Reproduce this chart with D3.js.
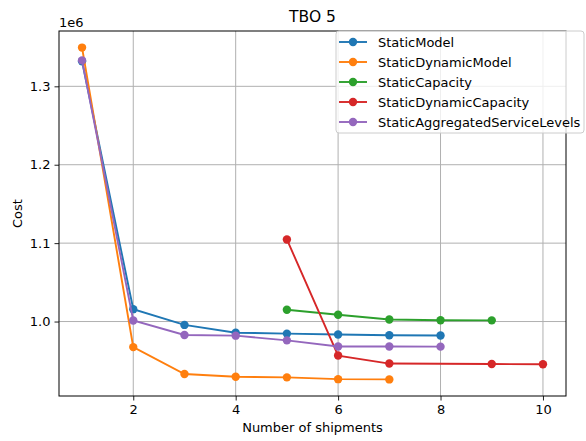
<!DOCTYPE html>
<html>
<head>
<meta charset="utf-8">
<script src="https://cdn.jsdelivr.net/npm/d3@7"></script>
<style>
  body { margin: 0; background: #fff; }
  text { font-family: "DejaVu Sans", sans-serif; fill: #000; }
</style>
</head>
<body>
<div id="root"></div>
<script>
// Values (cost in units of 1e6)
const seriesNames = ["StaticModel", "StaticDynamicModel", "StaticCapacity", "StaticDynamicCapacity", "StaticAggregatedServiceLevels"];
const seriesColors = ["#1f77b4", "#ff7f0e", "#2ca02c", "#d62728", "#9467bd"];

const staticModelX = [1, 2, 3, 4, 5, 6, 7, 8];
const staticModelY = [1.332, 1.0158, 0.9957, 0.9858, 0.9846, 0.9835, 0.9825, 0.9822];
const staticDynamicModelX = [1, 2, 3, 4, 5, 6, 7];
const staticDynamicModelY = [1.3494, 0.9674, 0.9331, 0.9296, 0.9288, 0.9265, 0.9262];
const staticCapacityX = [5, 6, 7, 8, 9];
const staticCapacityY = [1.015, 1.0086, 1.0026, 1.0017, 1.0015];
const staticDynamicCapacityX = [5, 6, 7, 9, 10];
const staticDynamicCapacityY = [1.1047, 0.9566, 0.9464, 0.9458, 0.9455];
const staticAggregatedX = [1, 2, 3, 4, 5, 6, 7, 8];
const staticAggregatedY = [1.3331, 1.0013, 0.9829, 0.982, 0.976, 0.9682, 0.9682, 0.968];

const xTicks = [2, 4, 6, 8, 10];
const yTicks = [1.0, 1.1, 1.2, 1.3];

const seriesX = [staticModelX, staticDynamicModelX, staticCapacityX, staticDynamicCapacityX, staticAggregatedX];
const seriesY = [staticModelY, staticDynamicModelY, staticCapacityY, staticDynamicCapacityY, staticAggregatedY];
const series = seriesNames.map((name, i) => ({
  name,
  color: seriesColors[i],
  points: seriesX[i].map((x, j) => ({ x, y: seriesY[i][j] }))
}));

const width = 586, height = 441;
const margin = { top: 31, right: 20, bottom: 45, left: 59 };
const plotW = width - margin.left - margin.right;
const plotH = height - margin.top - margin.bottom;
const fs = 13;

// matplotlib-style 5% margins around the data range
const allX = seriesX.flat(), allY = seriesY.flat();
const xPad = (d3.max(allX) - d3.min(allX)) * 0.05;
const yPad = (d3.max(allY) - d3.min(allY)) * 0.05;
const x = d3.scaleLinear().domain([d3.min(allX) - xPad, d3.max(allX) + xPad]).range([0, plotW]);
const y = d3.scaleLinear().domain([d3.min(allY) - yPad, d3.max(allY) + yPad]).range([plotH, 0]);

const svg = d3.select("#root").append("svg").attr("width", width).attr("height", height);
const g = svg.append("g").attr("transform", `translate(${margin.left},${margin.top})`);

// grid
g.append("g").selectAll("line").data(xTicks).join("line")
  .attr("x1", d => x(d)).attr("x2", d => x(d)).attr("y1", 0).attr("y2", plotH)
  .attr("stroke", "#b0b0b0").attr("stroke-width", 1);
g.append("g").selectAll("line").data(yTicks).join("line")
  .attr("y1", d => y(d)).attr("y2", d => y(d)).attr("x1", 0).attr("x2", plotW)
  .attr("stroke", "#b0b0b0").attr("stroke-width", 1);

// axes
const xAxis = g.append("g").attr("transform", `translate(0,${plotH})`)
  .call(d3.axisBottom(x).tickValues(xTicks).tickSize(4.5).tickPadding(4).tickFormat(d3.format("d")));
const yAxis = g.append("g")
  .call(d3.axisLeft(y).tickValues(yTicks).tickSize(4.5).tickPadding(4).tickFormat(d3.format(".1f")));
[xAxis, yAxis].forEach(a => {
  a.select(".domain").remove();
  a.selectAll("text").attr("font-size", fs).attr("fill", "#222");
  a.selectAll("line").attr("stroke", "#222");
});

// lines and markers
const line = d3.line().x(d => x(d.x)).y(d => y(d.y));
series.forEach(s => {
  g.append("path").datum(s.points).attr("d", line)
    .attr("fill", "none").attr("stroke", s.color).attr("stroke-width", 1.9);
  g.append("g").selectAll("circle").data(s.points).join("circle")
    .attr("cx", d => x(d.x)).attr("cy", d => y(d.y)).attr("r", 4.2)
    .attr("fill", s.color);
});

// frame
g.append("rect").attr("width", plotW).attr("height", plotH)
  .attr("fill", "none").attr("stroke", "#000").attr("stroke-width", 1);

// texts
svg.append("text").attr("x", margin.left + plotW / 2).attr("y", 22)
  .attr("text-anchor", "middle").attr("font-size", 15.5).text("TBO 5");
svg.append("text").attr("x", margin.left).attr("y", 27)
  .attr("font-size", fs).attr("fill", "#222").text("1e6");
svg.append("text").attr("x", margin.left + plotW / 2).attr("y", 432)
  .attr("text-anchor", "middle").attr("font-size", fs).text("Number of shipments");
svg.append("text").attr("transform", `translate(22,${margin.top + plotH / 2}) rotate(-90)`)
  .attr("text-anchor", "middle").attr("font-size", fs).text("Cost");

// legend
const legend = svg.append("g").attr("transform", "translate(336,31)");
legend.append("rect").attr("width", 248).attr("height", 102).attr("rx", 3)
  .attr("fill", "#fff").attr("fill-opacity", 0.8).attr("stroke", "#cccccc");
series.forEach((s, i) => {
  const ly = 11 + i * 20;
  legend.append("line").attr("x1", 3).attr("x2", 31).attr("y1", ly).attr("y2", ly)
    .attr("stroke", s.color).attr("stroke-width", 1.9);
  legend.append("circle").attr("cx", 17).attr("cy", ly).attr("r", 4.2).attr("fill", s.color);
  legend.append("text").attr("x", 42).attr("y", ly).attr("dy", "0.35em")
    .attr("font-size", fs).attr("fill", "#222").text(s.name);
});
</script>
</body>
</html>
